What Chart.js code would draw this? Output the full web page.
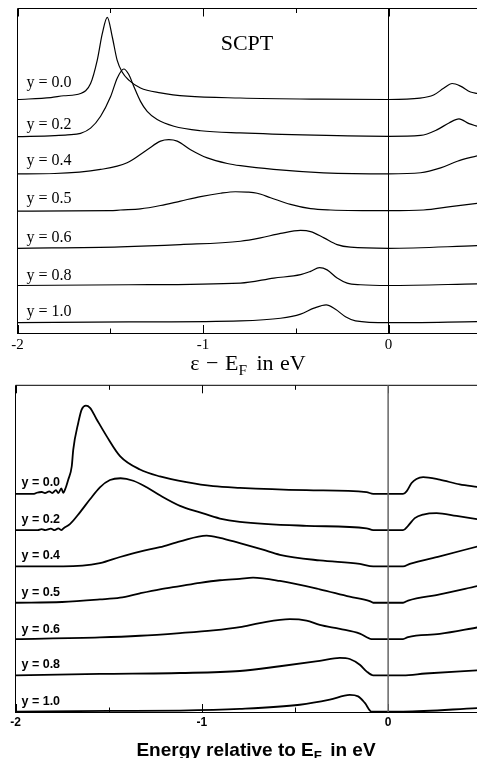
<!DOCTYPE html>
<html lang="en">
<head>
<meta charset="UTF-8">
<title>SCPT spectra</title>
<script src="https://cdn.jsdelivr.net/npm/chart.js@4"></script>
<style>
    body { margin: 0; background: #fff; }
    .page { position: relative; width: 477px; height: 758px; overflow: hidden; }
    .panel { position: absolute; left: 0; }
    .xtitle { position: absolute; white-space: nowrap; transform: translateX(-50%); color: #000; }
    #topTitle { left: 248px; top: 352px; font: 22px/22px "Liberation Serif", "Times New Roman", serif; word-spacing: 1px; }
    #bottomTitle { left: 256px; top: 740px; font: bold 19px/19px "Liberation Sans", Arial, sans-serif; }
    sub { font-size: 0.7em; vertical-align: -0.3em; line-height: 0; margin-right: 3px; }
</style>
</head>
<body>
<div class="page">
    <canvas id="top" class="panel" width="477" height="363" style="top:0"></canvas>
    <canvas id="bottom" class="panel" width="477" height="365" style="top:377px"></canvas>
    <div id="topTitle" class="xtitle">&epsilon; &minus; E<sub>F</sub> in eV</div>
    <div id="bottomTitle" class="xtitle">Energy relative to E<sub>F</sub> in eV</div>
</div>

<script>
    // curve names and vertical offsets (one unit per curve)
    const curveLabels = ['y = 0.0', 'y = 0.2', 'y = 0.4', 'y = 0.5', 'y = 0.6', 'y = 0.8', 'y = 1.0'];
    const offsets = [6, 5, 4, 3, 2, 1, 0];
    const majorTicks = [-2, -1, 0];
    const minorTicks = [-1.5, -0.5];

    // top panel (SCPT): [energy in eV, intensity]
    const scpt00 = [[-2.0,0],[-1.82,0.05],[-1.75,0.10],[-1.66,0.16],[-1.606,0.43],[-1.57,1.06],[-1.543,1.77],[-1.516,2.21],[-1.489,1.68],[-1.463,1.06],[-1.436,0.74],[-1.40,0.52],[-1.337,0.31],[-1.229,0.18],[-1.085,0.09],[-0.80,0.04],[-0.37,0.01],[0.0,0.0],[0.17,0.035],[0.243,0.12],[0.297,0.30],[0.343,0.43],[0.388,0.36],[0.442,0.20],[0.48,0.16]];
    const scpt02 = [[-2.0,0],[-1.80,0.03],[-1.73,0.05],[-1.66,0.09],[-1.606,0.23],[-1.552,0.55],[-1.498,1.08],[-1.462,1.58],[-1.427,1.82],[-1.40,1.67],[-1.373,1.35],[-1.337,0.95],[-1.301,0.68],[-1.247,0.46],[-1.157,0.28],[-1.013,0.16],[-0.80,0.10],[-0.40,0.04],[0.0,0.01],[0.173,0.035],[0.263,0.19],[0.326,0.37],[0.38,0.48],[0.434,0.35],[0.48,0.28]];
    const scpt04 = [[-2.0,0],[-1.80,0.01],[-1.552,0.12],[-1.409,0.30],[-1.301,0.65],[-1.229,0.88],[-1.184,0.92],[-1.139,0.88],[-1.067,0.65],[-0.977,0.43],[-0.869,0.28],[-0.798,0.22],[-0.62,0.12],[-0.35,0.03],[0.0,0.0],[0.173,0.03],[0.281,0.16],[0.371,0.34],[0.48,0.49]];
    const scpt05 = [[-2.0,0],[-1.5,0.01],[-1.445,0.03],[-1.337,0.06],[-1.229,0.15],[-1.121,0.27],[-1.013,0.39],[-0.906,0.48],[-0.825,0.52],[-0.762,0.51],[-0.708,0.48],[-0.636,0.36],[-0.528,0.18],[-0.42,0.065],[-0.312,0.03],[0.0,0.01],[0.189,0.03],[0.334,0.12],[0.48,0.21]];
    const scpt06 = [[-2.0,0],[-1.445,0.04],[-1.121,0.10],[-0.798,0.19],[-0.69,0.28],[-0.582,0.40],[-0.474,0.48],[-0.42,0.45],[-0.348,0.28],[-0.277,0.10],[-0.205,0.03],[0.0,0.0],[0.48,0.07]];
    const scpt08 = [[-2.0,0],[-1.4,0.02],[-0.798,0.065],[-0.618,0.20],[-0.474,0.29],[-0.42,0.38],[-0.372,0.48],[-0.331,0.42],[-0.277,0.20],[-0.223,0.065],[-0.151,0.02],[0.0,0.0],[0.48,0.045]];
    const scpt10 = [[-2.0,0],[-1.4,0.02],[-0.798,0.05],[-0.582,0.12],[-0.474,0.23],[-0.402,0.39],[-0.336,0.48],[-0.286,0.36],[-0.232,0.16],[-0.178,0.05],[0.0,0.0],[0.48,0.03]];

    // bottom panel: [energy in eV, intensity]
    const ed00 = [[-2.0,0],[-1.90,0],[-1.886,0.03],[-1.859,0.05],[-1.842,0.02],[-1.819,0.07],[-1.803,0.02],[-1.783,0.10],[-1.770,0.02],[-1.754,0.15],[-1.744,0.03],[-1.731,0.16],[-1.717,0.39],[-1.698,0.76],[-1.690,1.22],[-1.663,1.96],[-1.645,2.32],[-1.622,2.43],[-1.600,2.37],[-1.564,2.05],[-1.511,1.59],[-1.439,1.04],[-1.332,0.67],[-1.225,0.48],[-1.082,0.32],[-0.939,0.21],[-0.796,0.165],[-0.438,0.10],[-0.116,0.045],[-0.08,0],[0.08,0],[0.099,0.07],[0.126,0.30],[0.152,0.41],[0.188,0.46],[0.277,0.39],[0.384,0.26],[0.48,0.19]];
    const ed02 = [[-2.0,0],[-1.88,0],[-1.86,0.03],[-1.84,0],[-1.81,0.04],[-1.79,0],[-1.77,0.05],[-1.755,0],[-1.74,0.06],[-1.708,0.165],[-1.654,0.49],[-1.60,0.85],[-1.547,1.18],[-1.493,1.38],[-1.436,1.43],[-1.368,1.36],[-1.296,1.18],[-1.225,0.96],[-1.117,0.67],[-1.01,0.49],[-0.903,0.32],[-0.796,0.23],[-0.438,0.12],[-0.116,0.05],[-0.08,0],[0.08,0],[0.107,0.12],[0.143,0.33],[0.188,0.43],[0.26,0.47],[0.367,0.39],[0.48,0.30]];
    const ed04 = [[-2.0,0],[-1.744,0],[-1.547,0.09],[-1.439,0.26],[-1.332,0.41],[-1.225,0.53],[-1.117,0.69],[-0.974,0.85],[-0.903,0.79],[-0.796,0.64],[-0.672,0.46],[-0.581,0.32],[-0.367,0.165],[-0.152,0.07],[-0.08,0],[0.08,0],[0.116,0.07],[0.277,0.28],[0.48,0.55]];
    const ed05 = [[-2.0,0],[-1.75,0.02],[-1.547,0.09],[-1.439,0.14],[-1.332,0.26],[-1.225,0.37],[-1.117,0.46],[-1.01,0.55],[-0.903,0.62],[-0.796,0.66],[-0.725,0.69],[-0.581,0.60],[-0.367,0.37],[-0.206,0.165],[-0.099,0.045],[-0.08,0],[0.08,0],[0.107,0.06],[0.277,0.23],[0.48,0.46]];
    const ed06 = [[-2.0,0],[-1.547,0.045],[-1.332,0.09],[-1.117,0.165],[-0.939,0.24],[-0.796,0.33],[-0.689,0.44],[-0.528,0.55],[-0.438,0.51],[-0.367,0.39],[-0.259,0.28],[-0.152,0.15],[-0.089,0],[0.08,0],[0.107,0.055],[0.277,0.14],[0.48,0.32]];
    const ed08 = [[-2.0,0],[-1.547,0.04],[-1.117,0.065],[-0.796,0.12],[-0.581,0.25],[-0.367,0.40],[-0.259,0.48],[-0.206,0.45],[-0.152,0.29],[-0.116,0.11],[-0.08,0],[0.08,0],[0.2,0.05],[0.48,0.14]];
    const ed10 = [[-2.0,0],[-1.5,0.02],[-1.117,0.03],[-0.796,0.075],[-0.474,0.19],[-0.313,0.33],[-0.206,0.46],[-0.161,0.42],[-0.125,0.24],[-0.089,0],[0.08,0],[0.48,0.10]];

    const topCurves = [scpt00, scpt02, scpt04, scpt05, scpt06, scpt08, scpt10];
    const bottomCurves = [ed00, ed02, ed04, ed05, ed06, ed08, ed10];

    // frame, inward ticks, zero line and curve names
    const framePlugin = {
        id: 'frame',
        afterDatasetsDraw(chart, args, o) {
            const {ctx, chartArea: a, scales: {x, y}} = chart;
            ctx.save();
            ctx.strokeStyle = '#000';
            ctx.lineWidth = 1;
            ctx.beginPath();
            ctx.moveTo(a.left, a.bottom);
            ctx.lineTo(a.left, a.top);
            ctx.lineTo(a.right, a.top);
            const tick = (v, len) => {
                const px = Math.round(x.getPixelForValue(v)) + 0.5;
                ctx.moveTo(px, a.top); ctx.lineTo(px, a.top + len);
                ctx.moveTo(px, a.bottom); ctx.lineTo(px, a.bottom - len);
            };
            majorTicks.forEach(v => tick(v, 8));
            minorTicks.forEach(v => tick(v, 4.5));
            ctx.stroke();

            const zx = x.getPixelForValue(0);
            ctx.strokeStyle = o.zeroColor;
            ctx.lineWidth = o.zeroWidth;
            ctx.beginPath();
            ctx.moveTo(zx, a.top);
            ctx.lineTo(zx, a.bottom);
            ctx.stroke();

            ctx.fillStyle = '#000';
            ctx.font = o.labelFont;
            ctx.textAlign = 'left';
            ctx.textBaseline = 'alphabetic';
            curveLabels.forEach((t, i) => {
                ctx.fillText(t, a.left + o.labelDx, y.getPixelForValue(offsets[i]) - o.labelGap[i]);
            });
            if (o.title) {
                ctx.font = o.titleFont;
                ctx.textAlign = 'center';
                ctx.fillText(o.title, o.titleX, o.titleY);
            }
            ctx.restore();
        }
    };

    function makeChart(id, curves, opt) {
        const datasets = curves.map((pts, i) => ({
            data: pts.map(([e, v]) => ({x: e, y: v + offsets[i]})),
            borderColor: '#000',
            borderWidth: opt.lineWidth,
            pointRadius: 0,
            fill: false,
            clip: false,
            cubicInterpolationMode: 'monotone'
        }));
        return new Chart(document.getElementById(id), {
            type: 'line',
            data: {datasets: datasets},
            plugins: [framePlugin],
            options: {
                responsive: false,
                animation: false,
                layout: {padding: {left: opt.left, top: opt.top, right: 0, bottom: 0}},
                plugins: {
                    legend: {display: false},
                    tooltip: {enabled: false},
                    frame: opt.frame
                },
                scales: {
                    x: {
                        type: 'linear',
                        min: -2,
                        max: 0.477,
                        afterBuildTicks: s => { s.ticks = majorTicks.map(v => ({value: v})); },
                        afterFit: s => { s.height = 30; },
                        grid: {display: false, drawTicks: false},
                        border: {display: true, color: '#000', width: 1},
                        ticks: {
                            autoSkip: false,
                            maxRotation: 0,
                            padding: opt.tickPad,
                            color: '#000',
                            font: opt.tickFont,
                            callback: v => String(v)
                        }
                    },
                    y: {display: false, min: opt.ymin, max: opt.ymax}
                }
            }
        });
    }

    makeChart('top', topCurves, {
        lineWidth: 1.2,
        left: 17.5,
        top: 8.5,
        ymin: -0.277,
        ymax: 8.446,
        tickPad: 3,
        tickFont: {family: 'Liberation Serif', size: 15},
        frame: {
            zeroColor: '#000',
            zeroWidth: 1,
            labelFont: '16px "Liberation Serif"',
            labelDx: 9,
            labelGap: [12, 8, 8.5, 8.5, 6, 5, 7],
            title: 'SCPT',
            titleFont: '22px "Liberation Serif"',
            titleX: 247,
            titleY: 50
        }
    });

    makeChart('bottom', bottomCurves, {
        lineWidth: 1.8,
        left: 15.5,
        top: 8.3,
        ymin: -0.01,
        ymax: 8.99,
        tickPad: 3,
        tickFont: {family: 'Liberation Sans', size: 12, weight: 'bold'},
        frame: {
            zeroColor: '#666',
            zeroWidth: 1.5,
            labelFont: 'bold 12.5px "Liberation Sans"',
            labelDx: 6,
            labelGap: [7.5, 7.5, 7, 7, 6.5, 7, 6.5],
            title: null
        }
    });
</script>
</body>
</html>
